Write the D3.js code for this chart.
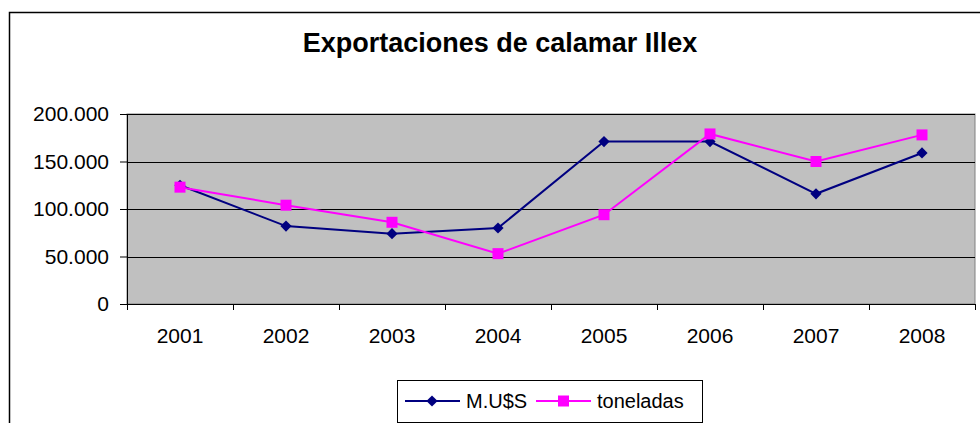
<!DOCTYPE html>
<html>
<head>
<meta charset="utf-8">
<script src="https://cdn.jsdelivr.net/npm/d3@7"></script>
<style>
  body { margin: 0; background: #fff; }
  svg { display: block; font-family: "Liberation Sans", Arial, sans-serif; }
</style>
</head>
<body>
<div id="myChart"></div>
<script>
// chart data
const years = ["2001", "2002", "2003", "2004", "2005", "2006", "2007", "2008"];
const musValues = [125000, 82000, 74000, 80000, 171000, 171000, 116000, 159000];
const tonValues = [123000, 104000, 86000, 53000, 94000, 179000, 150000, 178000];
const yTicks = [0, 50000, 100000, 150000, 200000];
const seriesNames = ["M.U$S", "toneladas"];

const W = 980, H = 423;
const margin = { top: 114, right: 5, bottom: 119, left: 127 };
const width = W - margin.left - margin.right,
      height = H - margin.top - margin.bottom;

const svg = d3.select("#myChart").append("svg")
    .attr("width", W).attr("height", H);

// outer frame of the chart object
svg.append("rect")
    .attr("x", 9.5).attr("y", 12.5)
    .attr("width", 990).attr("height", 440)
    .attr("fill", "none").attr("stroke", "#000").attr("stroke-width", 1.5);

// title
svg.append("text")
    .attr("x", 500).attr("y", 52)
    .attr("text-anchor", "middle")
    .style("font-size", "27px").style("font-weight", "bold")
    .text("Exportaciones de calamar Illex");

const g = svg.append("g")
    .attr("transform", "translate(" + margin.left + "," + margin.top + ")");

const x = d3.scaleBand().domain(years).range([0, width]);
const y = d3.scaleLinear().domain([0, 200000]).range([height, 0]);

// plot area
g.append("rect")
    .attr("width", width).attr("height", height)
    .attr("fill", "#c0c0c0").attr("stroke", "#808080").attr("stroke-width", 1);

// gridlines
g.selectAll(".grid").data(yTicks.slice(1)).enter().append("line")
    .attr("x1", 0).attr("x2", width)
    .attr("y1", d => Math.round(y(d)) + 0.5).attr("y2", d => Math.round(y(d)) + 0.5)
    .attr("stroke", "#000").attr("stroke-width", 1);

const fmt = d => d === 0 ? "0" : d3.format(",")(d).replace(/,/g, ".");

// y axis
const yAxis = g.append("g")
    .call(d3.axisLeft(y).tickValues(yTicks).tickFormat(fmt).tickSize(7).tickSizeOuter(0));
yAxis.select(".domain").attr("stroke", "#000");
yAxis.selectAll("text").style("font-size", "21px").style("font-family", "Liberation Sans, Arial, sans-serif")
    .attr("fill", "#000").attr("x", -18);

// x axis with ticks at category boundaries
const xAxis = g.append("g").attr("transform", "translate(0," + height + ")");
xAxis.append("line").attr("x1", 0).attr("x2", width).attr("y1", 0.5).attr("y2", 0.5).attr("stroke", "#000");
xAxis.selectAll(".tk").data(years.concat(["end"])).enter().append("line")
    .attr("x1", (d, i) => Math.round(i * x.step()) + 0.5)
    .attr("x2", (d, i) => Math.round(i * x.step()) + 0.5)
    .attr("y1", 0).attr("y2", 6).attr("stroke", "#000");
xAxis.selectAll("text").data(years).enter().append("text")
    .attr("x", d => x(d) + x.bandwidth() / 2).attr("y", 38.5)
    .attr("text-anchor", "middle").style("font-size", "21px")
    .text(d => d);

const cx = d => x(d) + x.bandwidth() / 2;
const line = d3.line().x(d => cx(d.year)).y(d => y(d.value));

const musData = years.map((yr, i) => ({ year: yr, value: musValues[i] }));
const tonData = years.map((yr, i) => ({ year: yr, value: tonValues[i] }));

g.append("path").datum(musData).attr("d", line)
    .attr("fill", "none").attr("stroke", "#000080").attr("stroke-width", 2);
g.selectAll(".dia").data(musData).enter().append("path")
    .attr("d", d3.symbol().type(d3.symbolDiamond2).size(80))
    .attr("transform", d => "translate(" + cx(d.year) + "," + y(d.value) + ")")
    .attr("fill", "#000080");

g.append("path").datum(tonData).attr("d", line)
    .attr("fill", "none").attr("stroke", "#ff00ff").attr("stroke-width", 2);
g.selectAll(".sq").data(tonData).enter().append("rect")
    .attr("x", d => cx(d.year) - 5.5).attr("y", d => y(d.value) - 5.5)
    .attr("width", 11).attr("height", 11)
    .attr("fill", "#ff00ff");

// legend
const leg = svg.append("g").attr("transform", "translate(397,380)");
leg.append("rect").attr("x", 0.5).attr("y", 0.5).attr("width", 305).attr("height", 42)
    .attr("fill", "#fff").attr("stroke", "#000");
const legItems = [
  { name: seriesNames[0], color: "#000080", x0: 8, shape: "diamond" },
  { name: seriesNames[1], color: "#ff00ff", x0: 139, shape: "square" }
];
legItems.forEach(it => {
  const li = leg.append("g").attr("transform", "translate(" + it.x0 + ",21)");
  li.append("line").attr("x1", 0).attr("x2", 55).attr("stroke", it.color).attr("stroke-width", 2);
  if (it.shape === "diamond") {
    li.append("path").attr("d", d3.symbol().type(d3.symbolDiamond2).size(80))
      .attr("transform", "translate(27,0)").attr("fill", it.color);
  } else {
    li.append("rect").attr("x", 22).attr("y", -5.5).attr("width", 11).attr("height", 11).attr("fill", it.color);
  }
  li.append("text").attr("x", 61).attr("y", 7).style("font-size", "20px").text(it.name);
});
</script>
</body>
</html>
